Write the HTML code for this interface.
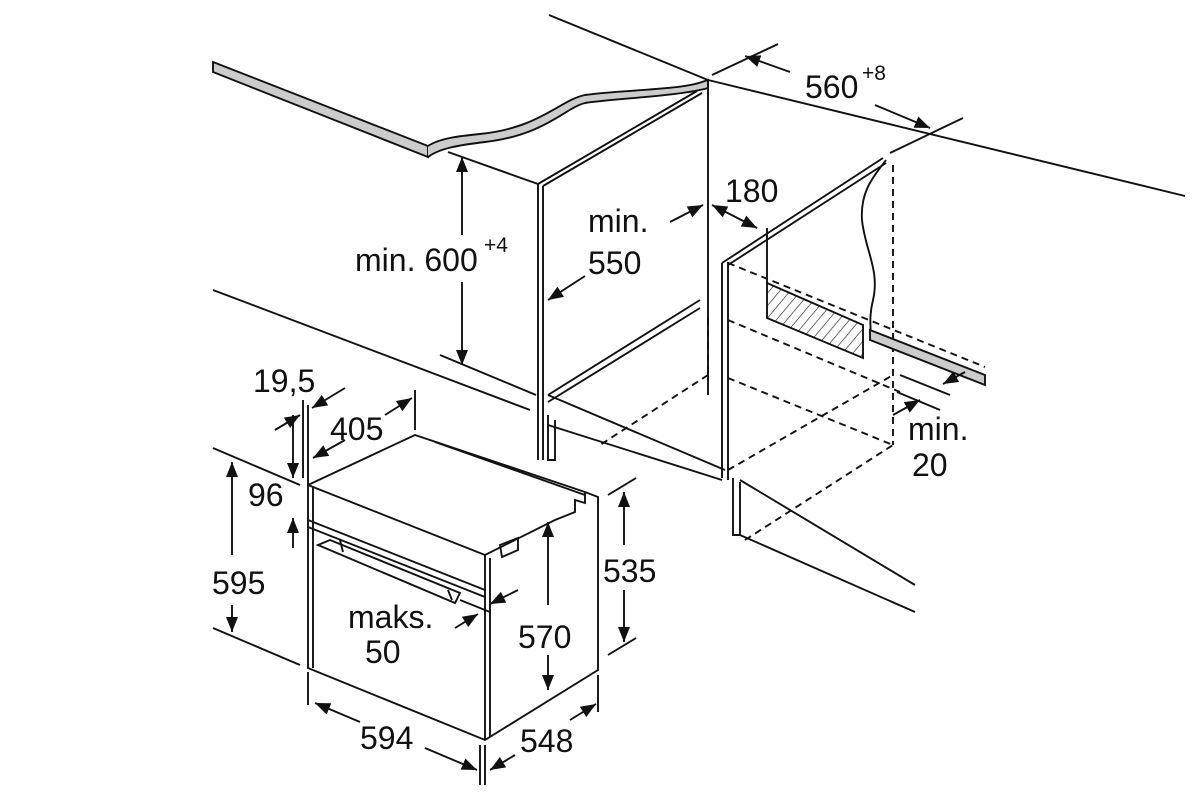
<!DOCTYPE html>
<html><head><meta charset="utf-8"><style>
html,body{margin:0;padding:0;background:#fff;}
svg{display:block}
text{font-family:"Liberation Sans",sans-serif;fill:#111;font-size:32px}
</style></head><body>
<svg width="1200" height="800" viewBox="0 0 1200 800" xmlns="http://www.w3.org/2000/svg">
<defs>
<marker id="a" viewBox="0 0 10 10" refX="10" refY="5" markerWidth="8" markerHeight="8" orient="auto-start-reverse"><path d="M0,1 L10,5 L0,9 z" fill="#111"/></marker>
<pattern id="h" width="8" height="8" patternUnits="userSpaceOnUse" patternTransform="rotate(40)"><line x1="0" y1="0" x2="0" y2="8" stroke="#222" stroke-width="1.3"/></pattern>
</defs>
<g stroke="#111" stroke-width="1.9" fill="none">
<path d="M213,62 L428,146 L428,157 L213,72 Z" fill="#ccc"/>
<path d="M428,146 C440,138 460,136 480,134 C540,128 560,100 585,95 C620,90 680,90 702,82 L708,80 L708,88 C680,96 620,98 585,103 C565,108 545,135 485,142 C460,145 440,148 428,157" fill="#ccc"/>
<line x1="549" y1="15" x2="708" y2="80"/>
<line x1="708" y1="80" x2="1185" y2="196"/>
<line x1="448" y1="152" x2="538" y2="184"/>
<path d="M538,184 L538,460 M543,186 L543,460"/>
<path d="M538,184 L697,91 M543,186 L702,93"/>
<line x1="708" y1="80" x2="708" y2="395"/>
<path d="M548,395 L700,300 M548,402 L700,308"/>
<path d="M548,415 L548,460 L555,460 L555,420"/>
<path d="M548,395 L725,470"/>
<line x1="213" y1="290" x2="530" y2="410"/>
<line x1="440" y1="355" x2="536" y2="395"/>
<path d="M722,263 L722,478 M728,262 L728,480"/>
<path d="M722,263 L883,158 M728,265 L886,163"/>
<path d="M886,160 C875,175 860,190 862,220 C865,250 880,270 873,300 C868,320 872,330 870,335"/>
<line x1="893" y1="165" x2="893" y2="445" stroke-dasharray="7,5"/>
<path d="M767,283 L863,325 L863,358 L767,318 Z" fill="url(#h)"/>
<line x1="767" y1="240" x2="767" y2="283"/>
<path d="M870,330 L985,375 L985,385 L870,340 Z" fill="#ccc"/>
<g stroke-dasharray="7,5">
<line x1="728" y1="263" x2="985" y2="367"/>
<line x1="728" y1="320" x2="900" y2="392"/>
<line x1="728" y1="378" x2="893" y2="445"/>
<line x1="728" y1="470" x2="893" y2="375"/>
<line x1="745" y1="540" x2="893" y2="445"/>
<line x1="708" y1="318" x2="708" y2="380"/>
<line x1="708" y1="375" x2="600" y2="445"/>
</g>
<path d="M733,478 L733,535 L740,535 L740,482"/>
<line x1="740" y1="480" x2="915" y2="585"/>
<line x1="740" y1="535" x2="915" y2="612"/>
<line x1="548" y1="425" x2="722" y2="480"/>
<line x1="712" y1="75" x2="778" y2="44"/>
<line x1="890" y1="153" x2="963" y2="118"/>
<line x1="790" y1="72" x2="745" y2="56" marker-end="url(#a)"/>
<line x1="875" y1="105" x2="930" y2="128" marker-end="url(#a)"/>
<line x1="670" y1="222" x2="703" y2="205" marker-end="url(#a)"/>
<line x1="585" y1="276" x2="548" y2="300" marker-end="url(#a)"/>
<line x1="712" y1="205" x2="757" y2="228" marker-start="url(#a)" marker-end="url(#a)"/>
<line x1="767" y1="228" x2="767" y2="240"/>
<line x1="462" y1="157" x2="462" y2="235" marker-start="url(#a)"/>
<line x1="462" y1="282" x2="462" y2="365" marker-end="url(#a)"/>
<line x1="900" y1="375" x2="950" y2="395"/>
<line x1="897" y1="392" x2="940" y2="410"/>
<line x1="965" y1="372" x2="943" y2="384" marker-end="url(#a)"/>
<line x1="893" y1="415" x2="920" y2="400" marker-end="url(#a)"/>
<path d="M308,485 L308,668 L485,740 L598,670 L598,497 L585,492"/>
<path d="M308,485 L415,435 L585,492 L585,503 L575,500 L575,512 L555,520 L485,555 L308,485"/>
<path d="M313,487 L313,668"/>
<line x1="485" y1="555" x2="485" y2="740"/>
<line x1="490" y1="558" x2="490" y2="737"/>
<line x1="308" y1="520" x2="485" y2="590"/>
<line x1="308" y1="527" x2="485" y2="597"/>
<path d="M318,545 L330,540 L460,593 L455,603 Z"/>
<path d="M340,540 L343,552 M448,590 L452,600"/>
<path d="M500,545 L518,538 L518,550 L502,557 Z"/>
<line x1="435" y1="442" x2="585" y2="495"/>
<line x1="213" y1="448" x2="300" y2="485"/>
<line x1="213" y1="628" x2="300" y2="665"/>
<line x1="232" y1="462" x2="232" y2="555" marker-start="url(#a)"/>
<line x1="232" y1="605" x2="232" y2="632" marker-end="url(#a)"/>
<line x1="293" y1="415" x2="293" y2="478" marker-end="url(#a)"/>
<line x1="293" y1="548" x2="293" y2="518" marker-end="url(#a)"/>
<line x1="303" y1="400" x2="303" y2="478"/>
<line x1="308" y1="405" x2="308" y2="485"/>
<line x1="275" y1="430" x2="300" y2="415" marker-end="url(#a)"/>
<line x1="345" y1="388" x2="312" y2="408" marker-end="url(#a)"/>
<line x1="415" y1="390" x2="415" y2="430"/>
<line x1="345" y1="440" x2="313" y2="458" marker-end="url(#a)"/>
<line x1="385" y1="415" x2="412" y2="398" marker-end="url(#a)"/>
<line x1="308" y1="672" x2="308" y2="705"/>
<line x1="485" y1="745" x2="485" y2="785"/>
<line x1="480" y1="745" x2="480" y2="785"/>
<line x1="598" y1="675" x2="598" y2="712"/>
<line x1="360" y1="722" x2="315" y2="703" marker-end="url(#a)"/>
<line x1="425" y1="748" x2="477" y2="770" marker-end="url(#a)"/>
<line x1="515" y1="755" x2="490" y2="770" marker-end="url(#a)"/>
<line x1="570" y1="720" x2="596" y2="704" marker-end="url(#a)"/>
<line x1="548" y1="605" x2="548" y2="522" marker-end="url(#a)"/>
<line x1="548" y1="655" x2="548" y2="690" marker-end="url(#a)"/>
<line x1="608" y1="495" x2="636" y2="478"/>
<line x1="608" y1="655" x2="636" y2="638"/>
<line x1="624" y1="545" x2="624" y2="492" marker-end="url(#a)"/>
<line x1="624" y1="590" x2="624" y2="642" marker-end="url(#a)"/>
<line x1="460" y1="600" x2="490" y2="612"/>
<line x1="518" y1="590" x2="490" y2="604" marker-end="url(#a)"/>
<line x1="455" y1="628" x2="478" y2="614" marker-end="url(#a)"/>
</g>
<text x="805" y="98">560</text><text x="862" y="80" style="font-size:21px">+8</text>
<text x="725" y="202">180</text>
<text x="588" y="232">min.</text>
<text x="588" y="274">550</text>
<text x="355" y="271">min. 600</text><text x="484" y="252" style="font-size:21px">+4</text>
<text x="908" y="440">min.</text>
<text x="912" y="476">20</text>
<text x="253" y="392">19,5</text>
<text x="330" y="440">405</text>
<text x="248" y="506">96</text>
<text x="212" y="594">595</text>
<text x="348" y="628">maks.</text>
<text x="365" y="663">50</text>
<text x="518" y="648">570</text>
<text x="603" y="582">535</text>
<text x="360" y="749">594</text>
<text x="520" y="752">548</text>
</svg>
</body></html>
